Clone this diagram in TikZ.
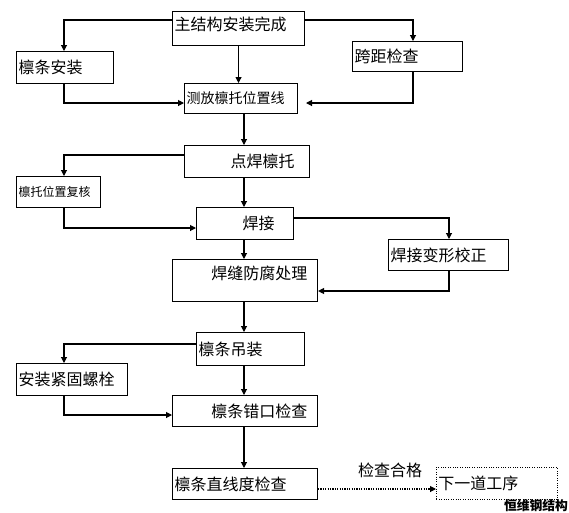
\documentclass[tikz,border=0pt]{standalone}
\usepackage{fontspec}
\newfontfamily\cjk{Noto Sans CJK SC}
\usetikzlibrary{arrows.meta}

\begin{document}
\begin{tikzpicture}[x=0.75pt,y=-0.75pt,
  box/.style={draw,line width=0.8pt,anchor=north west,align=left,
    inner xsep=1.5pt,inner ysep=0pt,font=\cjk\fontsize{12pt}{14pt}\selectfont},
  flow/.style={line width=0.8pt,-{Triangle[length=4.5pt,width=4.5pt]}},
  txt/.style={font=\cjk\fontsize{12pt}{14pt}\selectfont,inner sep=0pt}]
\useasboundingbox (0,0) rectangle (569,512);

%boxes
\node[box,text width=96pt,text height=14.25pt,text depth=11.25pt] (main) at (172,11) {主结构安装完成};
\node[box,text width=69.75pt,minimum height=24pt] (purlin) at (16,51) {檩条安装};
\node[box,text width=79.5pt,minimum height=22.5pt] (span) at (352,41) {跨距检查};
\node[box,text width=81.75pt,minimum height=22.5pt,font=\cjk\fontsize{10.5pt}{12pt}\selectfont] (mark) at (184,83) {测放檩托位置线};
\node[box,text width=90.75pt,minimum height=24pt] (spot) at (184,145) {\hspace*{2.75em}点焊檩托};
\node[box,text width=60pt,minimum height=23.25pt,font=\cjk\fontsize{9pt}{11pt}\selectfont] (recheck) at (16,176) {檩托位置复核};
\node[box,text width=69.75pt,minimum height=24pt] (weld) at (196,207) {\hspace*{2.75em}焊接};
\node[box,text width=87pt,minimum height=23.25pt] (correct) at (388,239) {焊接变形校正};
\node[box,text width=105.75pt,text height=15pt,text depth=16.5pt] (coat) at (172,259) {\hspace*{2.3em}焊缝防腐处理};
\node[box,text width=78pt,minimum height=24.75pt] (lift) at (196,332) {檩条吊装};
\node[box,text width=80.25pt,minimum height=24pt] (bolt) at (16,363) {安装紧固螺栓};
\node[box,text width=105.75pt,minimum height=23.25pt] (stagger) at (172,395) {\hspace*{2.3em}檩条错口检查};
\node[box,text width=105.75pt,minimum height=23.25pt] (straight) at (172,468) {檩条直线度检查};
\node[box,densely dotted,line width=0.6pt,text width=87.75pt,minimum height=24pt] (next) at (436,467) {下一道工序};

%labels
\node[txt] (pass) at (390,470) {检查合格};
\node[txt,font=\cjk\bfseries\fontsize{9.6pt}{11pt}\selectfont] (brand) at (536,506) {恒维钢结构};

%arrows
\coordinate (spanin) at (306,103);
\draw[flow] (main.west |- 0,20) -| (purlin.north -| 64,0);
\draw[flow] (main.south) -- (main.south |- mark.north);
\draw[flow] (main.east |- 0,20) -| (span.north -| 413,0);
\draw[flow] (span.south -| 413,0) |- (spanin);
\draw[flow] (purlin.south -| 64,0) |- (mark.west |- 0,103);
\draw[flow] (mark.south -| 244,0) -- (spot.north -| 244,0);
\draw[flow] (spot.west |- 0,155) -| (recheck.north -| 64,0);
\draw[flow] (recheck.south -| 64,0) |- (weld.west |- 0,228);
\draw[flow] (spot.south -| 244,0) -- (weld.north -| 244,0);
\draw[flow] (weld.east |- 0,218) -| (correct.north -| 449,0);
\draw[flow] (correct.south -| 449,0) |- (coat.east |- 0,291);
\draw[flow] (weld.south -| 244,0) -- (coat.north -| 244,0);
\draw[flow] (coat.south -| 244,0) -- (lift.north -| 244,0);
\draw[flow] (lift.west |- 0,344) -| (bolt.north -| 64,0);
\draw[flow] (bolt.south -| 64,0) |- (stagger.west |- 0,415);
\draw[flow] (lift.south -| 244,0) -- (stagger.north -| 244,0);
\draw[flow] (stagger.south -| 244,0) -- (straight.north -| 244,0);
\draw[flow,densely dotted] (straight.east |- 0,489) -- (next.west |- 0,489);

\end{tikzpicture}
\end{document}
